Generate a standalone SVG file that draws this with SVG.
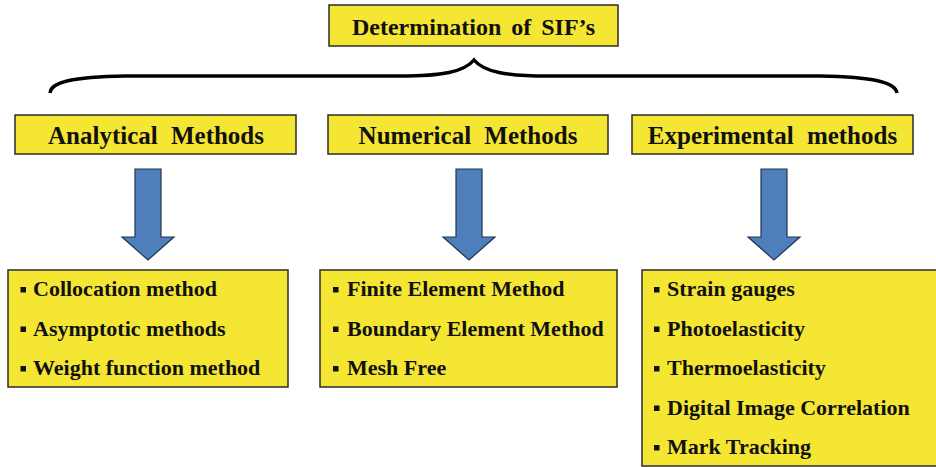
<svg xmlns="http://www.w3.org/2000/svg" width="936" height="467" viewBox="0 0 936 467">
  <style>
    .box { fill: #F5E634; stroke: #2b2b2b; stroke-width: 1.5; }
    .head { font-family: "Liberation Serif", "Times New Roman", serif; font-weight: bold; font-size: 25px; fill: #111; text-anchor: middle; word-spacing: 7px; }
    .title { font-size: 24px; word-spacing: 4px; }
    .item { font-family: "Liberation Serif", "Times New Roman", serif; font-weight: bold; font-size: 22px; fill: #111; }
    .bullet { fill: #111; }
    .arrow { fill: #4F7FBA; stroke: #1E3552; stroke-width: 1.2; stroke-linejoin: miter; }
    .brace { fill: none; stroke: #000; stroke-width: 3.5; stroke-linecap: butt; }
  </style>

  <!-- root -->
  <g id="root">
    <rect class="box" x="329" y="5" width="289" height="41"/>
    <text class="head title" x="473.5" y="35">Determination of SIF’s</text>
  </g>

  <!-- connectors: brace and block arrows -->
  <g id="connectors">
    <path class="brace" d="M50,93 C51,82 72,77 125,76 L400,76 C442,76 464,72 474,60 C484,72 506,76 548,76 L820,76 C873,77 895,82 897,93"/>
    <path class="arrow" d="M135,169 H161 V237 H174 L148,260 L122,237 H135 Z"/>
    <path class="arrow" d="M456,169 H482 V237 H495 L469,260 L443,237 H456 Z"/>
    <path class="arrow" d="M761,169 H787 V237 H800 L774,260 L748,237 H761 Z"/>
  </g>

  <!-- category headers -->
  <g id="analytical">
    <rect class="box" x="15" y="115" width="281" height="39"/>
    <text class="head" x="156" y="143.5">Analytical Methods</text>
  </g>
  <g id="numerical">
    <rect class="box" x="328" y="115" width="280" height="39"/>
    <text class="head" x="468" y="143.5">Numerical Methods</text>
  </g>
  <g id="experimental">
    <rect class="box" x="632" y="115" width="281" height="39"/>
    <text class="head" x="772.5" y="143.5">Experimental methods</text>
  </g>

  <!-- method lists -->
  <g id="analytical-list">
    <rect class="box" x="8" y="270" width="280" height="117"/>
    <rect class="bullet" x="20.5" y="287" width="5.5" height="5.5"/>
    <text class="item" x="33" y="296">Collocation method</text>
    <rect class="bullet" x="20.5" y="326.5" width="5.5" height="5.5"/>
    <text class="item" x="33" y="335.5">Asymptotic methods</text>
    <rect class="bullet" x="20.5" y="366" width="5.5" height="5.5"/>
    <text class="item" x="33" y="375">Weight function method</text>
  </g>
  <g id="numerical-list">
    <rect class="box" x="320" y="270" width="297" height="117"/>
    <rect class="bullet" x="333" y="287" width="5.5" height="5.5"/>
    <text class="item" x="347" y="296">Finite Element Method</text>
    <rect class="bullet" x="333" y="326.5" width="5.5" height="5.5"/>
    <text class="item" x="347" y="335.5">Boundary Element Method</text>
    <rect class="bullet" x="333" y="366" width="5.5" height="5.5"/>
    <text class="item" x="347" y="375">Mesh Free</text>
  </g>
  <g id="experimental-list">
    <rect class="box" x="642" y="270" width="300" height="196"/>
    <rect class="bullet" x="654" y="287" width="5.5" height="5.5"/>
    <text class="item" x="667" y="296">Strain gauges</text>
    <rect class="bullet" x="654" y="326.5" width="5.5" height="5.5"/>
    <text class="item" x="667" y="335.5">Photoelasticity</text>
    <rect class="bullet" x="654" y="366" width="5.5" height="5.5"/>
    <text class="item" x="667" y="375">Thermoelasticity</text>
    <rect class="bullet" x="654" y="405.5" width="5.5" height="5.5"/>
    <text class="item" x="667" y="414.5">Digital Image Correlation</text>
    <rect class="bullet" x="654" y="445" width="5.5" height="5.5"/>
    <text class="item" x="667" y="454">Mark Tracking</text>
  </g>
</svg>
